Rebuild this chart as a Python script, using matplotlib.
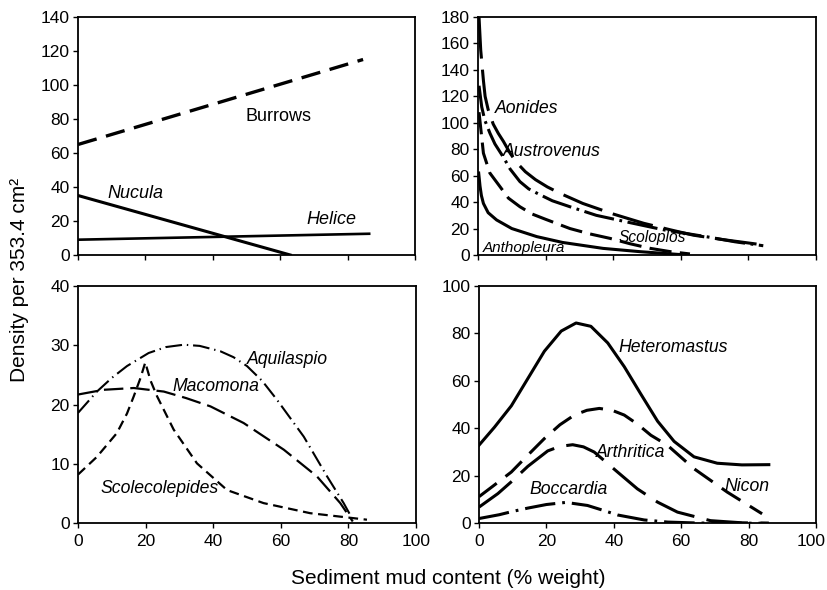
import numpy as np
import matplotlib
matplotlib.use("Agg")
import matplotlib.pyplot as plt
from matplotlib.transforms import ScaledTranslation

plt.rcParams["font.family"] = ["Liberation Sans", "DejaVu Sans"]
plt.rcParams["lines.scale_dashes"] = False

# Top left: straight-line fits
burrows_x = [0, 84.6]
burrows_y = [65, 115]
nucula_x = [0, 63]
nucula_y = [35, 0]
helice_x = [0, 86.4]
helice_y = [9, 12.5]

# Top right: decaying curves
aonides_x = [0.3, 0.8, 1.6, 2.1, 3, 4.5, 6, 7.5, 9.5, 11.4, 14, 17, 20.5, 24.3, 31, 40, 49, 57, 63.7, 72, 84.4]
aonides_y = [180, 155, 132, 120, 110, 99, 92, 86, 77, 70, 63, 57, 51.5, 46.6, 39, 31, 24, 19, 15, 11.8, 7.6]
austrovenus_x = [0.3, 1.1, 2, 3.55, 5, 7.5, 9.5, 12.4, 15, 18, 22, 27.2, 35, 44, 55, 68.6, 76, 84.4]
austrovenus_y = [128, 112, 102, 92, 84, 74, 65, 55.5, 50, 46, 41, 36.5, 30, 25, 19, 13.4, 10, 7]
scoloplos_x = [0.3, 1.6, 3.5, 6.5, 9, 12.4, 16, 20, 27.2, 33, 39, 45, 51, 57, 62.7]
scoloplos_y = [108, 77, 62, 51.7, 43, 36.5, 31, 27, 20, 16, 12.6, 8.5, 5, 2.5, 0.8]
anthopleura_x = [0.2, 0.6, 1.0, 1.6, 3, 5.5, 10, 17.4, 25, 37, 48, 60]
anthopleura_y = [62, 52, 45, 39, 32, 26.5, 20, 13.9, 9.5, 5, 2.5, 0.3]

# Bottom left
aquilaspio_x = [0, 5.6, 10, 14.5, 20.9, 26, 31.3, 36, 42.1, 46, 50, 54.5, 58.9, 66.8, 73.7, 78.6, 81.6]
aquilaspio_y = [18.6, 22.2, 24.5, 26.5, 28.7, 29.7, 30.1, 29.9, 29.0, 28, 26.5, 24, 20.8, 14.6, 7.9, 3.4, 0.3]
macomona_x = [0, 7.6, 16.5, 25.4, 32, 39.2, 49, 60.9, 70.7, 77.6, 81.3]
macomona_y = [21.7, 22.5, 22.8, 22.2, 21.1, 19.7, 16.9, 12.4, 7.9, 3.4, 0.3]
scolecolepides_x = [0, 5.6, 11.5, 14.5, 16.5, 18.5, 19.9, 21.5, 23.4, 28.3, 35.2, 44.1, 54.9, 68.7, 85.5]
scolecolepides_y = [8.2, 11.2, 15.2, 18.5, 21.4, 24.5, 27.1, 24, 21.4, 15.8, 10.1, 5.6, 3.4, 1.7, 0.6]

# Bottom right
heteromastus_x = [0, 4.6, 9.6, 14.5, 19.4, 24.4, 28.8, 33.2, 38.2, 43.1, 48, 53, 57.9, 63.8, 70.7, 78, 86]
heteromastus_y = [32.9, 40.5, 49.5, 61, 72.5, 81, 84.4, 83, 76, 66, 54.5, 43, 34.5, 28, 25.3, 24.6, 24.7]
nicon_x = [0, 4, 9.6, 14, 19.4, 24, 28.3, 32, 35.7, 39.5, 43.1, 47, 51, 55.9, 63.8, 73.7, 84]
nicon_y = [11.2, 15.5, 21.6, 28, 35.7, 41.5, 45.6, 47.6, 48.4, 47.6, 45.6, 41.8, 37.1, 32.9, 23, 13.1, 4.0]
arthritica_x = [0, 5.6, 10, 14.5, 20.4, 24, 27.8, 31, 34.2, 41.1, 47, 53, 58.9, 68.7, 78, 86]
arthritica_y = [6.8, 12.5, 18, 24, 30.5, 32.4, 33.1, 32.2, 30, 21.6, 14.5, 8.9, 4.7, 1.1, 0.2, 0]
boccardia_x = [0, 6, 10, 14.5, 20, 25.8, 32.2, 36.5, 41.1, 49, 56, 65, 86]
boccardia_y = [2.0, 3.6, 5.0, 6.4, 7.9, 8.8, 7.5, 5.6, 3.5, 1.4, 0.5, 0.1, 0]

x_ticks = [0, 20, 40, 60, 80, 100]

fig = plt.figure(figsize=(8.27, 5.9), dpi=100)
ax_tl = fig.add_axes([0.0943, 0.5678, 0.4075, 0.4034])
ax_tr = fig.add_axes([0.578, 0.5678, 0.4087, 0.4034])
ax_bl = fig.add_axes([0.0943, 0.1131, 0.4087, 0.4022])
ax_br = fig.add_axes([0.5792, 0.1131, 0.4075, 0.4022])

for ax, ymax, ystep, show_x in [
    (ax_tl, 140, 20, False),
    (ax_tr, 180, 20, False),
    (ax_bl, 40, 10, True),
    (ax_br, 100, 20, True),
]:
    ax.set_xlim(0, 100)
    ax.set_ylim(0, ymax)
    ax.set_xticks(x_ticks)
    ax.set_yticks(np.arange(0, ymax + 1, ystep))
    ax.tick_params(direction="out", length=3.5, width=1.0, labelsize=12.5, pad=2.5)
    if not show_x:
        ax.tick_params(axis="x", labelbottom=False)
    else:
        ax.tick_params(axis="x", pad=4)
    for sp in ax.spines.values():
        sp.set_linewidth(1.3)

# nudge the last bottom-right tick label left so it stays inside the figure
last_tick = ax_br.xaxis.get_major_ticks()[-1]
last_tick.label1.set_transform(last_tick.label1.get_transform()
                               + ScaledTranslation(-0.05, 0, fig.dpi_scale_trans))

# Top left
ax_tl.plot(burrows_x, burrows_y, color="k", lw=2.4, dashes=(14, 7))
ax_tl.plot(nucula_x, nucula_y, color="k", lw=2.2)
ax_tl.plot(helice_x, helice_y, color="k", lw=1.9)
ax_tl.text(49.6, 81.4, "Burrows", fontsize=13, ha="left", va="center")
ax_tl.text(8.7, 35.9, "Nucula", fontsize=13, style="italic", ha="left", va="center")
ax_tl.text(67.7, 21, "Helice", fontsize=13, style="italic", ha="left", va="center")

# Top right
ax_tr.plot(aonides_x, aonides_y, color="k", lw=2.2, dashes=(30, 8))
ax_tr.plot(austrovenus_x, austrovenus_y, color="k", lw=2.2, dashes=(22, 4, 2, 4))
ax_tr.plot(scoloplos_x, scoloplos_y, color="k", lw=2.2, dashes=(16, 6))
ax_tr.plot(anthopleura_x, anthopleura_y, color="k", lw=2.2)
ax_tr.text(5, 111, "Aonides", fontsize=12.7, style="italic", ha="left", va="center")
ax_tr.text(7.5, 78, "Austrovenus", fontsize=12.7, style="italic", ha="left", va="center")
ax_tr.text(41.5, 13.4, "Scoloplos", fontsize=11.2, style="italic", ha="left", va="center")
ax_tr.text(1.4, 5.5, "Anthopleura", fontsize=11, style="italic", ha="left", va="center")

# Bottom left
ax_bl.plot(aquilaspio_x, aquilaspio_y, color="k", lw=1.5, dashes=(12, 3.5, 1, 3.5))
ax_bl.plot(macomona_x, macomona_y, color="k", lw=1.6, dashes=(14, 5))
ax_bl.plot(scolecolepides_x, scolecolepides_y, color="k", lw=1.6, dashes=(7, 4))
ax_bl.text(50, 27.6, "Aquilaspio", fontsize=12.7, style="italic", ha="left", va="center")
ax_bl.text(27.9, 23, "Macomona", fontsize=12.7, style="italic", ha="left", va="center")
ax_bl.text(6.7, 5.9, "Scolecolepides", fontsize=12.7, style="italic", ha="left", va="center")

# Bottom right
ax_br.plot(heteromastus_x, heteromastus_y, color="k", lw=2.2)
ax_br.plot(nicon_x, nicon_y, color="k", lw=2.2, dashes=(16, 8))
ax_br.plot(arthritica_x, arthritica_y, color="k", lw=2.2, dashes=(30, 9))
ax_br.plot(boccardia_x, boccardia_y, color="k", lw=2.2, dashes=(22, 5, 2, 5))
ax_br.text(41.5, 74, "Heteromastus", fontsize=12.7, style="italic", ha="left", va="center")
ax_br.text(34.8, 29.7, "Arthritica", fontsize=12.7, style="italic", ha="left", va="center")
ax_br.text(72.7, 15.7, "Nicon", fontsize=12.7, style="italic", ha="left", va="center")
ax_br.text(15.1, 14.1, "Boccardia", fontsize=12.7, style="italic", ha="left", va="center")

fig.text(20 / 827, 1 - 280 / 590, "Density per 353.4 cm\u00b2", rotation=90,
         fontsize=15, ha="center", va="center")
fig.text(448 / 827, 1 - 579 / 590, "Sediment mud content (% weight)",
         fontsize=15, ha="center", va="center")

fig.savefig("out.png", dpi=100)
